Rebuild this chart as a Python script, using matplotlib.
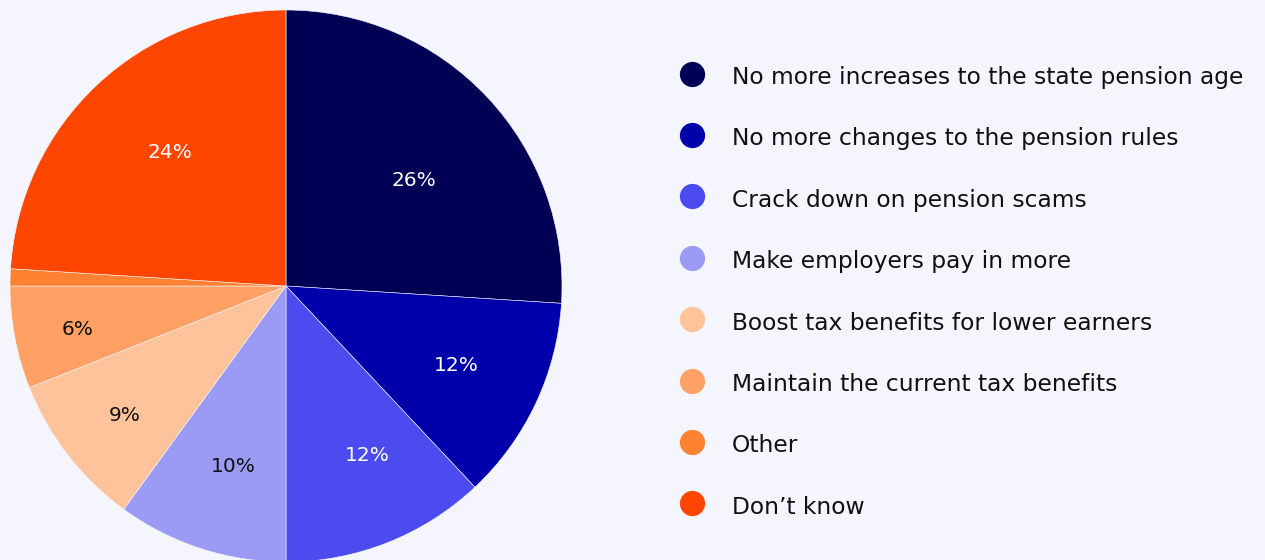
import matplotlib.pyplot as plt
import numpy as np

# survey answers, clockwise from 12 o'clock
labels = [
    "No more increases to the state pension age",
    "No more changes to the pension rules",
    "Crack down on pension scams",
    "Make employers pay in more",
    "Boost tax benefits for lower earners",
    "Maintain the current tax benefits",
    "Other",
    "Don\u2019t know",
]
shares = [26, 12, 12, 10, 9, 6, 1, 24]
colors = ["#000055", "#0000AA", "#4B4BF0", "#9B9BF5",
          "#FFC39B", "#FFA064", "#FF8232", "#FF4600"]
text_colors = ["white", "white", "white", "#111111",
               "#111111", "#111111", None, "white"]
# label placement: distance from centre (fraction of radius) and angle nudge
label_dist = [0.6, 0.68, 0.68, 0.68, 0.75, 0.77, 0, 0.64]
label_nudge = [-3.8, 0, 4, 1.7, 1.1, 1.1, 0, -2.3]

bg = "#F5F5FE"
W, H = 1265, 560
fig = plt.figure(figsize=(W / 100, H / 100), dpi=100, facecolor=bg)

# pie axes: centre (286, 286) px, radius 276 px
cx, cy, r = 286, 286, 276
ax = fig.add_axes([(cx - r) / W, (H - cy - r) / H, 2 * r / W, 2 * r / H])
ax.set_facecolor(bg)
wedges, _ = ax.pie(shares, colors=colors, startangle=90, counterclock=False,
                   radius=1, wedgeprops=dict(edgecolor=bg, linewidth=0.4))
ax.set_xlim(-1, 1)
ax.set_ylim(-1, 1)
ax.set_aspect("equal")
ax.axis("off")

for w, s, tc, d, n in zip(wedges, shares, text_colors, label_dist, label_nudge):
    if tc is None:
        continue
    ang = np.deg2rad((w.theta1 + w.theta2) / 2 + n)
    ax.text(d * np.cos(ang), d * np.sin(ang), f"{s}%", color=tc,
            ha="center", va="center", fontsize=14.5)

# legend drawn in pixel coordinates
lg = fig.add_axes([0, 0, 1, 1])
lg.set_xlim(0, W)
lg.set_ylim(H, 0)
lg.axis("off")
y0, step = 73.5, 61.4
for i, (lab, c) in enumerate(zip(labels, colors)):
    y = y0 + i * step
    lg.scatter([692], [y], s=330, color=c, linewidths=0)
    lg.text(732, y + 4, lab, ha="left", va="center", fontsize=16.8,
            color="#111111")

fig.savefig("out.png", dpi=100, facecolor=bg)
